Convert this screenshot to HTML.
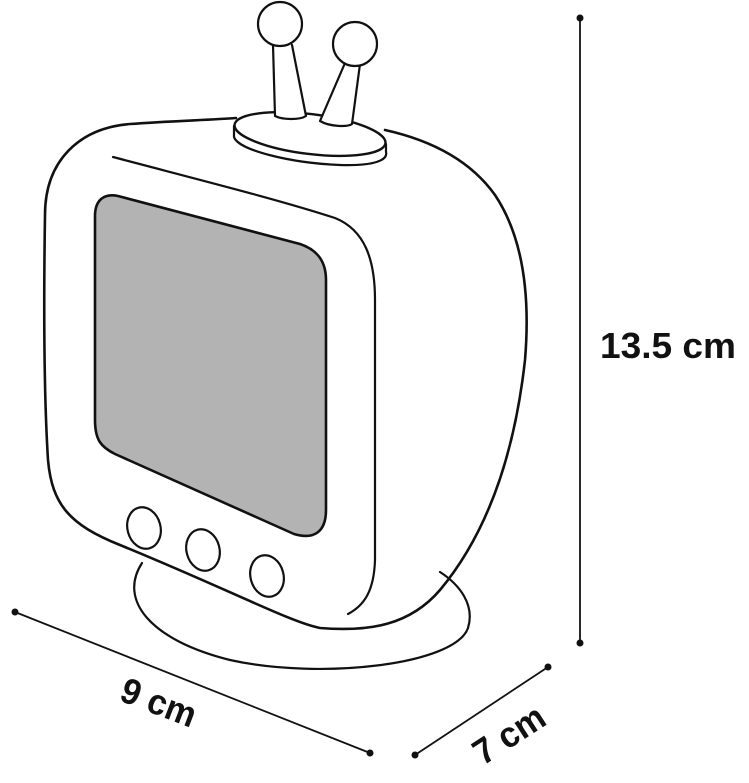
<!DOCTYPE html>
<html><head><style>
html,body{margin:0;padding:0;background:#fff}
svg{display:block}
text{font-family:"Liberation Sans",sans-serif;font-weight:bold;fill:#111}
</style></head><body>
<svg width="749" height="783" viewBox="0 0 749 783" xmlns="http://www.w3.org/2000/svg">
<g fill="none" stroke="#111" stroke-width="2.2" stroke-linecap="round" stroke-linejoin="round">
<!-- base -->
<path d="M142,563 C118,600 150,640 230,660 C320,680 455,665 468,628 C475,605 460,585 440,572"/>
<!-- body -->
<path d="M236,118 C210,120 170,121 130,124 C80,128 45,160 45,215 C44,280 43,380 48,460 C52,505 70,525 120,545 C230,590 290,622 320,628 C370,632 410,625 440,590 C490,530 515,450 525,360 C530,300 525,240 495,195 C470,160 430,140 385,130" stroke-width="2.6"/>
<!-- inner lines -->
<path d="M113,157 C200,180 280,200 335,218 C365,230 375,260 375,300 L375,560 C374,590 365,605 348,614"/>
<!-- screen -->
<path d="M118,196 L300,244 C318,250 326,262 326,280 L326,510 C326,532 314,540 294,534 L115,454 C101,447 95,440 95,420 L95,216 C95,200 104,193 118,196 Z" fill="#b3b3b3" stroke-width="2.6"/>
<!-- buttons -->
<ellipse cx="144" cy="528" rx="16.5" ry="21" transform="rotate(-15 144 528)"/>
<ellipse cx="203" cy="550" rx="16.5" ry="21" transform="rotate(-15 203 550)"/>
<ellipse cx="267" cy="576" rx="16.5" ry="21" transform="rotate(-15 267 576)"/>
<!-- antenna platform -->
<path d="M234,126 L234,137 C238,150 290,163 340,165 C375,166 388,160 386,152 L386,144"/>
<ellipse cx="310" cy="134" rx="76" ry="20" transform="rotate(7 310 134)" fill="#fff" stroke-width="2.4"/>
<path d="M273,45 L275,116 C283,120 300,120 306,116 L292,45" fill="#fff"/>
<path d="M345,63 L320,121 C330,127 348,127 352,124 L360,64" fill="#fff"/>
<circle cx="280" cy="24" r="22" fill="#fff"/>
<circle cx="355" cy="44" r="22" fill="#fff"/>
<!-- dimension lines -->
<path d="M580,18 L580,643" stroke-width="1.8"/>
<path d="M15,612 L370,753" stroke-width="1.8"/>
<path d="M548,667 L415,755" stroke-width="1.8"/>
</g>
<g fill="#111">
<circle cx="580" cy="18" r="3.5"/><circle cx="580" cy="643" r="3.5"/>
<circle cx="15" cy="612" r="3.5"/><circle cx="370" cy="753" r="3.5"/>
<circle cx="548" cy="667" r="3.5"/><circle cx="415" cy="755" r="3.5"/>
</g>
<text x="600" y="358" font-size="36" textLength="136" lengthAdjust="spacingAndGlyphs">13.5 cm</text>
<text x="0" y="0" font-size="36" transform="translate(118,700) rotate(21)" textLength="78" lengthAdjust="spacingAndGlyphs">9 cm</text>
<text x="0" y="0" font-size="36" transform="translate(483,766) rotate(-33)" textLength="78" lengthAdjust="spacingAndGlyphs">7 cm</text>
</svg>
</body></html>
